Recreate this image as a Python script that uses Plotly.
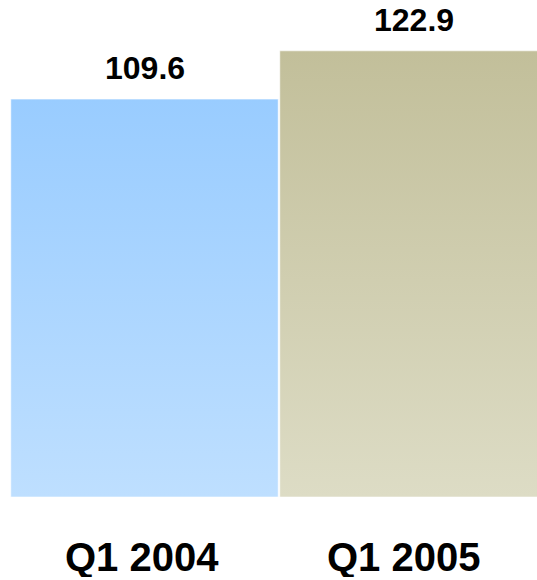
import plotly.graph_objects as go

categories = ["Q1 2004", "Q1 2005"]
values = [109.6, 122.9]
value_labels = ["109.6", "122.9"]
top_colors = ["#99CCFF", "#C2BF9A"]
bottom_colors = ["#BEDFFF", "#DDDCC5"]

half_width = 0.497
label_xshift = [-3, -10]

FIG_W, FIG_H = 537, 580

fig = go.Figure()
for i, (cat, v) in enumerate(zip(categories, values)):
    x0, x1 = i - half_width, i + half_width
    fig.add_trace(go.Scatter(
        x=[x0, x1, x1, x0, x0],
        y=[0, 0, v, v, 0],
        mode="lines",
        fill="toself",
        fillgradient=dict(
            type="vertical",
            colorscale=[[0, bottom_colors[i]], [1, top_colors[i]]],
            start=0,
            stop=v,
        ),
        line=dict(color="rgba(255,255,255,0.55)", width=1),
        name=cat,
        hoverinfo="skip",
        showlegend=False,
    ))
    fig.add_annotation(
        x=i, y=v, xref="x", yref="y",
        text=value_labels[i],
        showarrow=False,
        yanchor="middle",
        yshift=31,
        font=dict(family="Liberation Sans, Arial", size=32, color="#000000", weight="bold"),
    )
    fig.add_annotation(
        x=i, y=0, xref="x", yref="paper",
        text=cat,
        showarrow=False,
        yanchor="middle",
        valign="middle",
        height=40,
        yshift=-60,
        xshift=label_xshift[i],
        font=dict(family="Liberation Sans, Arial", size=40, color="#000000", weight="bold"),
    )

px_per_unit = 269.0
x_start = -144.5 / px_per_unit
x_end = x_start + FIG_W / px_per_unit

fig.update_layout(
    width=FIG_W, height=FIG_H,
    margin=dict(l=0, r=0, t=0, b=83),
    paper_bgcolor="#FFFFFF",
    plot_bgcolor="#FFFFFF",
    xaxis=dict(range=[x_start, x_end], visible=False, fixedrange=True),
    yaxis=dict(range=[0, 136.9], visible=False, fixedrange=True),
    showlegend=False,
)

fig.write_html(
    "out.html",
    config={"displayModeBar": False},
    post_script="document.body.style.margin='0';document.documentElement.style.overflow='hidden';document.body.style.overflow='hidden';",
)
